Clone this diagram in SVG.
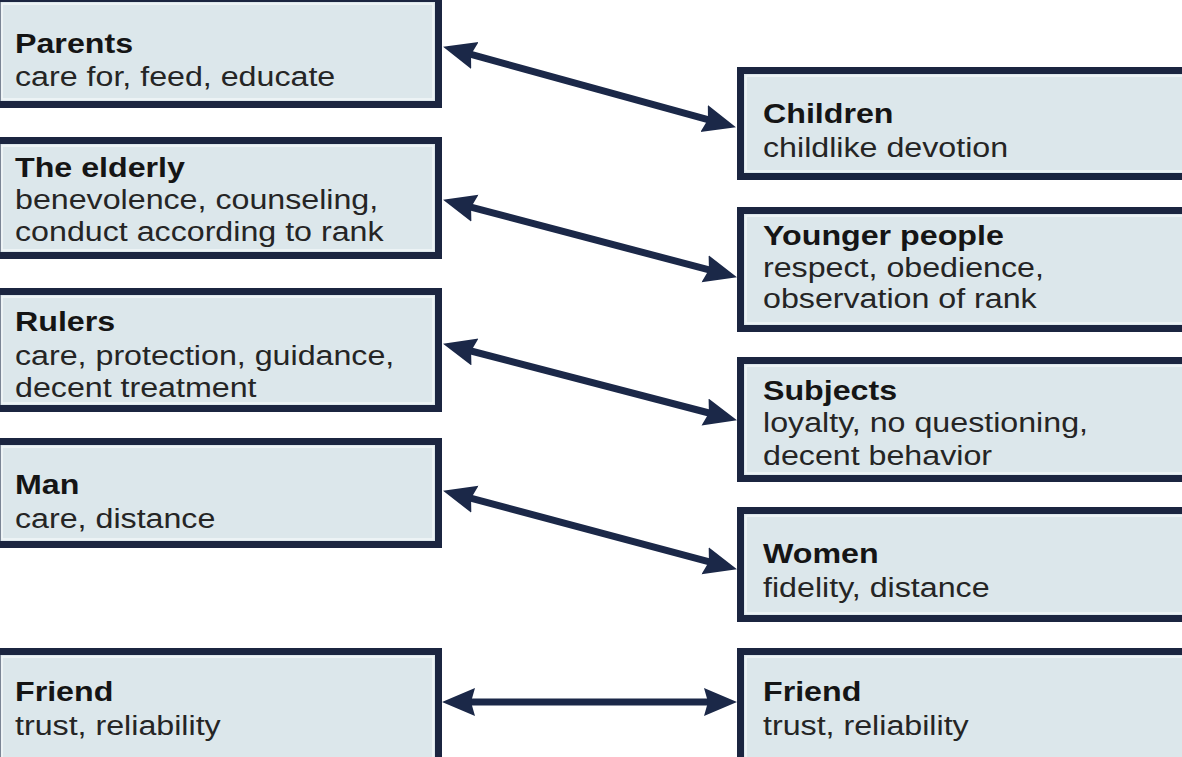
<svg xmlns="http://www.w3.org/2000/svg" width="1182" height="757" viewBox="0 0 1182 757">
<style>
.box{fill:#dce7eb;stroke:#1b2540;stroke-width:7}
.hl{fill:none;stroke:#f2f7f9;stroke-width:1.5}
.t{font-family:"Liberation Sans",Arial,sans-serif;font-size:28px;font-weight:bold;fill:#151515}
.b{font-family:"Liberation Sans",Arial,sans-serif;font-size:28px;fill:#252525}
.con{stroke:#1b2848;stroke-width:7;fill:none;marker-start:url(#ah);marker-end:url(#ah)}
</style>
<defs>
<marker id="ah" markerUnits="userSpaceOnUse" markerWidth="34" markerHeight="30" refX="20" refY="14" orient="auto-start-reverse" viewBox="0 0 34 28">
<path d="M0,0 L33,14 L0,28 L4,14 z" fill="#1b2848"/>
</marker>
</defs>
<rect width="1182" height="757" fill="#ffffff"/>

<g id="parents">
<rect class="box" x="-3" y="-1.5" width="441.5" height="106"/>
<rect class="hl" x="2" y="4" width="431" height="95"/>
<g transform="translate(15,0) scale(1.15,1)"><text class="t" x="0" y="53">Parents</text><text class="b" x="0" y="86">care for, feed, educate</text></g>
</g>
<g id="elderly">
<rect class="box" x="-3" y="140.5" width="441.5" height="115"/>
<rect class="hl" x="2" y="146" width="431" height="104"/>
<g transform="translate(15,0) scale(1.15,1)"><text class="t" x="0" y="177">The elderly</text><text class="b" x="0" y="209">benevolence, counseling,</text><text class="b" x="0" y="241">conduct according to rank</text></g>
</g>
<g id="rulers">
<rect class="box" x="-3" y="291.5" width="441.5" height="117"/>
<rect class="hl" x="2" y="297" width="431" height="106"/>
<g transform="translate(15,0) scale(1.15,1)"><text class="t" x="0" y="331">Rulers</text><text class="b" x="0" y="365">care, protection, guidance,</text><text class="b" x="0" y="397">decent treatment</text></g>
</g>
<g id="man">
<rect class="box" x="-3" y="441.5" width="441.5" height="103"/>
<rect class="hl" x="2" y="447" width="431" height="92"/>
<g transform="translate(15,0) scale(1.15,1)"><text class="t" x="0" y="494">Man</text><text class="b" x="0" y="528">care, distance</text></g>
</g>
<g id="friend-left">
<rect class="box" x="-3" y="651.5" width="441.5" height="112"/>
<rect class="hl" x="2" y="657" width="431" height="101"/>
<g transform="translate(15,0) scale(1.15,1)"><text class="t" x="0" y="701">Friend</text><text class="b" x="0" y="735">trust, reliability</text></g>
</g>

<g id="children">
<rect class="box" x="740.5" y="70.5" width="450" height="106"/>
<rect class="hl" x="746" y="76" width="440" height="95"/>
<g transform="translate(763,0) scale(1.15,1)"><text class="t" x="0" y="123">Children</text><text class="b" x="0" y="157">childlike devotion</text></g>
</g>
<g id="younger">
<rect class="box" x="740.5" y="210.5" width="450" height="118"/>
<rect class="hl" x="746" y="216" width="440" height="107"/>
<g transform="translate(763,0) scale(1.15,1)"><text class="t" x="0" y="245">Younger people</text><text class="b" x="0" y="277">respect, obedience,</text><text class="b" x="0" y="308">observation of rank</text></g>
</g>
<g id="subjects">
<rect class="box" x="740.5" y="360.5" width="450" height="118"/>
<rect class="hl" x="746" y="366" width="440" height="107"/>
<g transform="translate(763,0) scale(1.15,1)"><text class="t" x="0" y="400">Subjects</text><text class="b" x="0" y="432">loyalty, no questioning,</text><text class="b" x="0" y="465">decent behavior</text></g>
</g>
<g id="women">
<rect class="box" x="740.5" y="510.5" width="450" height="108"/>
<rect class="hl" x="746" y="516" width="440" height="97"/>
<g transform="translate(763,0) scale(1.15,1)"><text class="t" x="0" y="563">Women</text><text class="b" x="0" y="597">fidelity, distance</text></g>
</g>
<g id="friend-right">
<rect class="box" x="740.5" y="651.5" width="450" height="112"/>
<rect class="hl" x="746" y="657" width="440" height="101"/>
<g transform="translate(763,0) scale(1.15,1)"><text class="t" x="0" y="701">Friend</text><text class="b" x="0" y="735">trust, reliability</text></g>
</g>

<g id="connectors">
<line class="con" x1="455.6" y1="50.2" x2="723.4" y2="123.8"/>
<line class="con" x1="455.6" y1="203.1" x2="724.4" y2="273.9"/>
<line class="con" x1="455.6" y1="347" x2="724.4" y2="417"/>
<line class="con" x1="455.6" y1="494.1" x2="724.4" y2="565.9"/>
<line class="con" x1="455" y1="702" x2="724" y2="702"/>
</g>
</svg>
